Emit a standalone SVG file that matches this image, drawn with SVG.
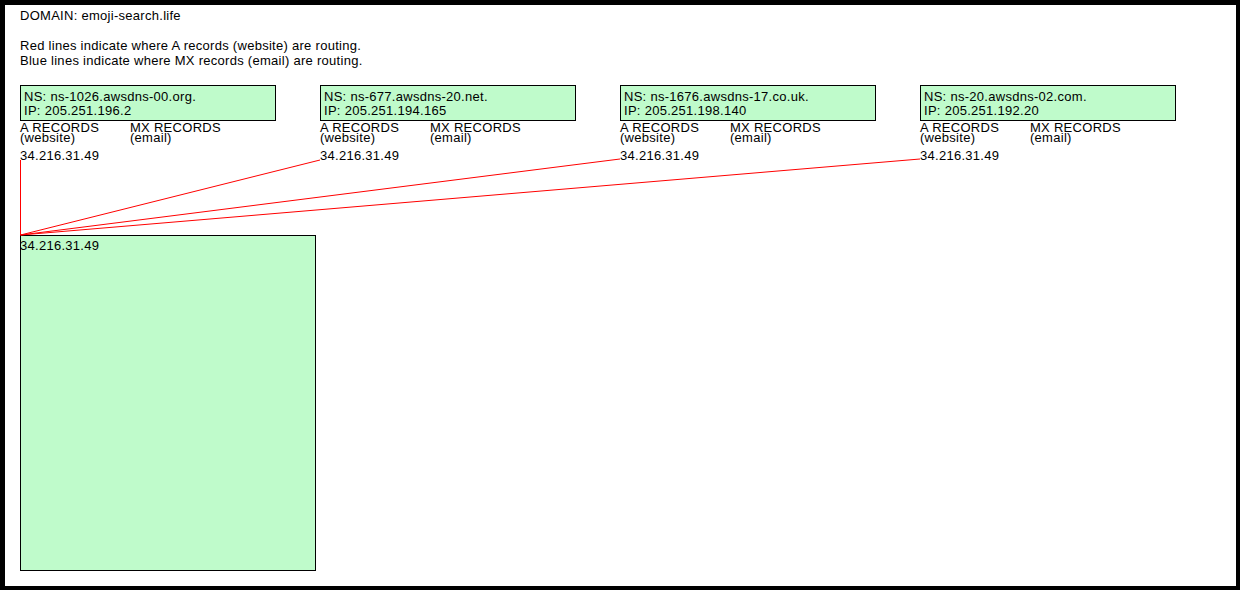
<svg xmlns="http://www.w3.org/2000/svg" width="1240" height="590" viewBox="0 0 1240 590">
<style>
text{font-family:"Liberation Sans",Arial,sans-serif;font-size:13px;letter-spacing:0.28px;fill:#000}
.box{fill:#bffbcb;stroke:#000;stroke-width:1}
.a{stroke:#f00;stroke-width:1;fill:none}
</style>
<rect x="0" y="0" width="1240" height="590" fill="#000"/>
<rect x="5" y="5" width="1231" height="581" fill="#fff"/>
<g id="header">
<text x="20" y="20">DOMAIN: emoji-search.life</text>
<text x="20" y="50">Red lines indicate where A records (website) are routing.</text>
<text x="20" y="65">Blue lines indicate where MX records (email) are routing.</text>
</g>
<g id="ns1">
<rect class="box" x="20.5" y="85.5" width="255" height="35"/>
<text x="24" y="100.5">NS: ns-1026.awsdns-00.org.</text>
<text x="24" y="115">IP: 205.251.196.2</text>
<text x="20" y="132">A RECORDS</text><text x="20" y="142">(website)</text>
<text x="130" y="132">MX RECORDS</text><text x="130" y="142">(email)</text>
<text x="20" y="160">34.216.31.49</text>
</g>
<g id="ns2">
<rect class="box" x="320.5" y="85.5" width="255" height="35"/>
<text x="324" y="100.5">NS: ns-677.awsdns-20.net.</text>
<text x="324" y="115">IP: 205.251.194.165</text>
<text x="320" y="132">A RECORDS</text><text x="320" y="142">(website)</text>
<text x="430" y="132">MX RECORDS</text><text x="430" y="142">(email)</text>
<text x="320" y="160">34.216.31.49</text>
</g>
<g id="ns3">
<rect class="box" x="620.5" y="85.5" width="255" height="35"/>
<text x="624" y="100.5">NS: ns-1676.awsdns-17.co.uk.</text>
<text x="624" y="115">IP: 205.251.198.140</text>
<text x="620" y="132">A RECORDS</text><text x="620" y="142">(website)</text>
<text x="730" y="132">MX RECORDS</text><text x="730" y="142">(email)</text>
<text x="620" y="160">34.216.31.49</text>
</g>
<g id="ns4">
<rect class="box" x="920.5" y="85.5" width="255" height="35"/>
<text x="924" y="100.5">NS: ns-20.awsdns-02.com.</text>
<text x="924" y="115">IP: 205.251.192.20</text>
<text x="920" y="132">A RECORDS</text><text x="920" y="142">(website)</text>
<text x="1030" y="132">MX RECORDS</text><text x="1030" y="142">(email)</text>
<text x="920" y="160">34.216.31.49</text>
</g>
<g id="target">
<rect class="box" x="20.5" y="235.5" width="295" height="335"/>
<text x="20" y="250">34.216.31.49</text>
</g>
<g id="connectors">
<line class="a" x1="20.5" y1="160" x2="20.5" y2="235"/>
<line class="a" x1="320" y1="160" x2="20.5" y2="235"/>
<line class="a" x1="620" y1="159" x2="20.5" y2="235"/>
<line class="a" x1="920" y1="159" x2="20.5" y2="235"/>
</g>
</svg>
